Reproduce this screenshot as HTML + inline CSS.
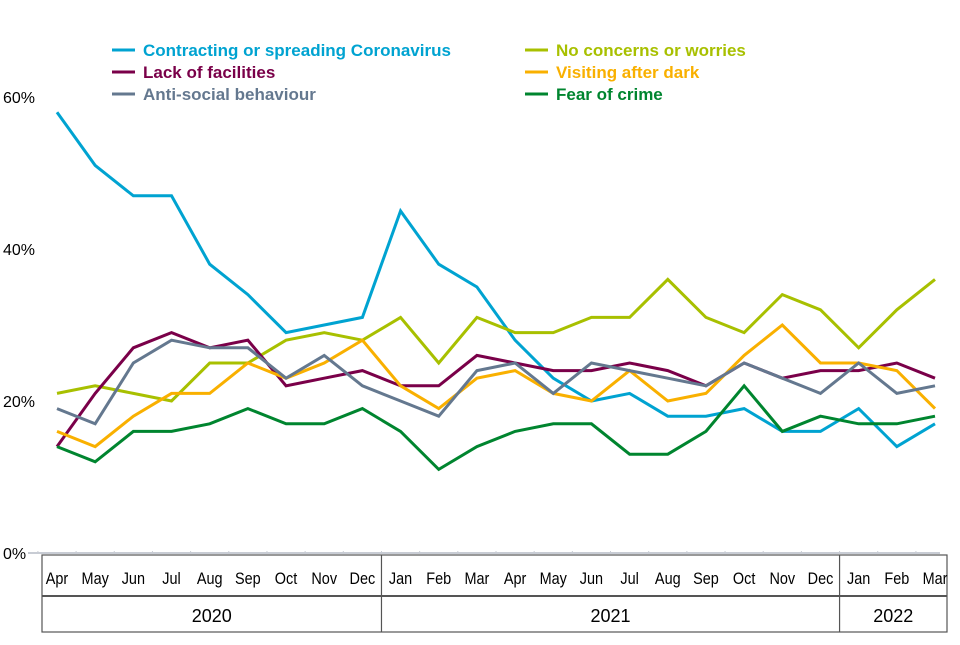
<!DOCTYPE html>
<html><head><meta charset="utf-8"><style>
body{margin:0;background:#fff;}
svg text{font-family:"Liberation Sans",Arial,sans-serif;}
</style></head><body>
<svg id="chart" width="960" height="640" xmlns="http://www.w3.org/2000/svg">
<g id="legend"></g>
<g id="yaxis"></g>
<g id="xaxis"></g>
<g id="series"></g>
</svg>
<script>
const months=["Apr","May","Jun","Jul","Aug","Sep","Oct","Nov","Dec","Jan","Feb","Mar","Apr","May","Jun","Jul","Aug","Sep","Oct","Nov","Dec","Jan","Feb","Mar"];
const years=["2020","2021","2022"];
const yearCounts=[9,12,3];
const yTicks=[0,20,40,60];
const seriesNames=["Contracting or spreading Coronavirus","No concerns or worries","Lack of facilities","Visiting after dark","Anti-social behaviour","Fear of crime"];
const coronavirus=[58,51,47,47,38,34,29,30,31,45,38,35,28,23,20,21,18,18,19,16,16,19,14,17];
const noConcerns=[21,22,21,20,25,25,28,29,28,31,25,31,29,29,31,31,36,31,29,34,32,27,32,36];
const lackFacilities=[14,21,27,29,27,28,22,23,24,22,22,26,25,24,24,25,24,22,25,23,24,24,25,23];
const afterDark=[16,14,18,21,21,25,23,25,28,22,19,23,24,21,20,24,20,21,26,30,25,25,24,19];
const antiSocial=[19,17,25,28,27,27,23,26,22,20,18,24,25,21,25,24,23,22,25,23,21,25,21,22];
const fearCrime=[14,12,16,16,17,19,17,17,19,16,11,14,16,17,17,13,13,16,22,16,18,17,17,18];
const colors=["#00a3d1","#a8c000","#7a0049","#f9b000","#64788f","#00852f"];
const allSeries=[coronavirus,noConcerns,lackFacilities,afterDark,antiSocial,fearCrime];

const NS="http://www.w3.org/2000/svg";
const x0=57,x1=935,y0=553,pxPer=7.6;
const xs=i=>x0+i*(x1-x0)/(months.length-1);
const ys=v=>y0-v*pxPer;
function mk(tag,attrs,parent,text){const e=document.createElementNS(NS,tag);for(const k in attrs)e.setAttribute(k,attrs[k]);if(text!==undefined)e.textContent=text;parent.appendChild(e);return e;}

const ya=document.getElementById('yaxis');
yTicks.forEach(t=>{
 const e=mk('text',{x:3,y:ys(t)+6,'font-size':16,fill:'#000'},ya,t+'%');
 
 
});
const base=mk('line',{x1:28,y1:y0,x2:940,y2:y0,stroke:'#c8ccd4','stroke-width':2},ya);



const xa=document.getElementById('xaxis');
const L=42,R=947,T=555,M=596,B=632,step=(x1-x0)/(months.length-1);
const box=mk('rect',{x:L,y:T,width:R-L,height:B-T,fill:'none',stroke:'#555','stroke-width':1.2},xa);


mk('line',{x1:L,y1:M,x2:R,y2:M,stroke:'#555','stroke-width':2},xa);
months.forEach((m,i)=>{
 mk('line',{x1:xs(i)-step/2,y1:y0-2,x2:xs(i)-step/2,y2:y0+1,stroke:'#c8ccd4'},xa);
 const e=mk('text',{x:0,y:0,'font-size':17,'text-anchor':'middle',fill:'#000',transform:'translate('+xs(i)+',584) scale(0.85,1)'},xa,m);
 
 
});
let start=0;
years.forEach((yr,k)=>{
 const a=k===0?L:xs(start)-step/2, end=start+yearCounts[k]; const b=k===years.length-1?R:xs(end)-step/2;
 if(k>0) mk('line',{x1:a,y1:T,x2:a,y2:B,stroke:'#555','stroke-width':1.2},xa);
 const e=mk('text',{x:(a+b)/2,y:622,'font-size':18,'text-anchor':'middle',fill:'#000'},xa,yr);
 
 
 start=end;
});

const sg=document.getElementById('series');
allSeries.forEach((vals,si)=>{
 const p=mk('polyline',{points:vals.map((v,i)=>xs(i)+','+ys(v)).join(' '),fill:'none',stroke:colors[si],'stroke-width':3,'stroke-linejoin':'miter'},sg);
 
 
});

const lg=document.getElementById('legend');
const pos=[[112,50],[525,50],[112,72],[525,72],[112,94],[525,94]];
seriesNames.forEach((n,i)=>{
 const [lx,ly]=pos[i];
 const g=mk('g',{},lg);
 
 
 mk('line',{x1:lx,y1:ly,x2:lx+23,y2:ly,stroke:colors[i],'stroke-width':3},g);
 mk('text',{x:lx+31,y:ly+6,'font-size':17,'font-weight':'bold',fill:colors[i]},g,n);
});
</script>
</body></html>
